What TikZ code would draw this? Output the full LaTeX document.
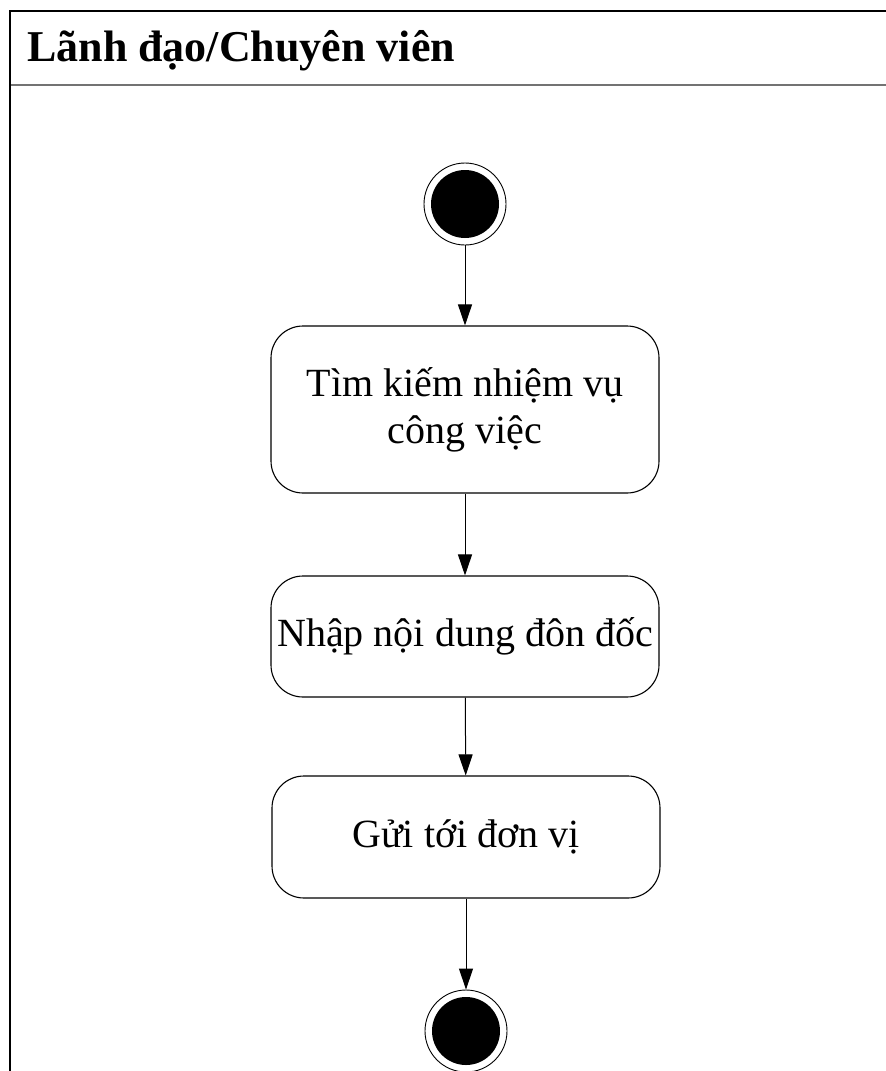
\documentclass[tikz,border=0pt]{standalone}
\usepackage{fontspec}
\setmainfont{Liberation Serif}
\usetikzlibrary{arrows.meta}

\tikzset{
  lane/.style={line width=2pt, line cap=rect},
  laneSep/.style={line width=1.5pt, draw=black!55},
  lanetitle/.style={anchor=base west, inner sep=0pt, font=\fontsize{44}{50}\selectfont\bfseries},
  action/.style={draw, line width=1.1pt, rounded corners=32pt, minimum width=388pt,
    align=center, inner sep=0pt, font=\fontsize{40}{47}\selectfont},
  ringnode/.style={circle, draw, line width=0.9pt, minimum size=82pt, inner sep=0pt},
  dotnode/.style={circle, fill=black, minimum size=68pt, inner sep=0pt},
  flow/.style={line width=1pt, -{Triangle[length=21pt,width=14pt]}},
}

\begin{document}
\begin{tikzpicture}[x=1pt,y=-1pt]
\useasboundingbox (0,0) rectangle (886,1071);

% swimlane frame and header
\draw[laneSep] (10,85) -- (890,85);
\draw[lane] (890,11) -- (10,11) -- (10,1075);
\node[lanetitle] (title) at (27,61) {Lãnh đạo/Chuyên viên};

% initial node
\node[ringnode] (start) at (465,204) {};
\node[dotnode] at (start.center) {};

% actions
\node[action, minimum height=167pt] (search) at (465,409.5) {Tìm kiếm nhiệm vụ\\công việc};
\node[action, minimum height=121pt] (enter) at (465,636.5) {Nhập nội dung đôn đốc};
\node[action, minimum height=122pt] (send) at (466,837) {Gửi tới đơn vị};

% final node
\node[ringnode] (final) at (466,1031) {};
\node[dotnode] at (final.center) {};

% control flow
\draw[flow] (start) -- (search);
\draw[flow] (search) -- (enter);
\draw[flow] (enter) -- (send);
\draw[flow] (send) -- (final);
\end{tikzpicture}
\end{document}
